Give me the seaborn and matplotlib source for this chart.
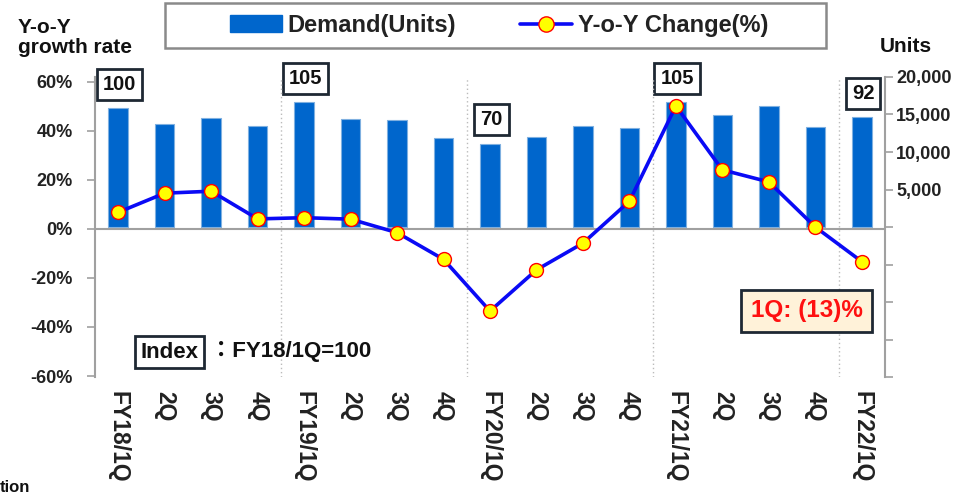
import numpy as np
import pandas as pd
import matplotlib
matplotlib.use("Agg")
import matplotlib.pyplot as plt
from matplotlib.patches import Patch, Rectangle
from matplotlib.lines import Line2D
from matplotlib.ticker import FixedLocator, FuncFormatter
import seaborn as sns

# ---------------- data ----------------
quarters = ["FY18/1Q", "2Q", "3Q", "4Q",
            "FY19/1Q", "2Q ", "3Q ", "4Q ",
            "FY20/1Q", "2Q  ", "3Q  ", "4Q  ",
            "FY21/1Q", "2Q   ", "3Q   ", "4Q   ",
            "FY22/1Q"]
tick_labels = ["FY18/1Q", "2Q", "3Q", "4Q",
               "FY19/1Q", "2Q", "3Q", "4Q",
               "FY20/1Q", "2Q", "3Q", "4Q",
               "FY21/1Q", "2Q", "3Q", "4Q",
               "FY22/1Q"]
demand_units = [15900, 13780, 14480, 13510,
                16690, 14440, 14300, 11900,
                11130, 12050, 13510, 13250,
                16700, 14970, 16160, 13380,
                14630]
yoy_change = [6.8, 14.6, 15.4, 4.1,
              4.6, 4.0, -1.5, -12.4,
              -33.5, -16.7, -5.8, 11.3,
              50.2, 24.1, 19.2, 0.8,
              -13.3]
index_quarters = ["FY18/1Q", "FY19/1Q", "FY20/1Q", "FY21/1Q", "FY22/1Q"]
index_values = [100, 105, 70, 105, 92]
left_ticks = [-60, -40, -20, 0, 20, 40, 60]
right_ticks = [-20000, -15000, -10000, -5000, 0, 5000, 10000, 15000, 20000]
year_boundaries = [3.5, 7.5, 11.5, 15.5]

df = pd.DataFrame({"quarter": quarters, "units": demand_units, "yoy": yoy_change})

# ---------------- style ----------------
sns.set_theme(style="white")
plt.rcParams["font.family"] = ["Liberation Sans", "DejaVu Sans"]
plt.rcParams["font.weight"] = "bold"

TXT = "#222222"
BAR = "#0066CC"
BAR_EDGE = "#7FB0E0"
LINE = "#0A0AF5"
SPINE = "#A0A0A0"

fig = plt.figure(figsize=(9.61, 4.93), dpi=100)
W, H = 961, 493
ax = fig.add_axes([95 / W, 1 - 377 / H, 790 / W, 300 / H])
ax2 = ax.twinx()

# bars (units, right axis)
sns.barplot(data=df, x="quarter", y="units", ax=ax2, color=BAR, saturation=1,
            width=0.42, edgecolor=BAR_EDGE, linewidth=0.8)

# line (yoy %, left axis)
xpos = np.arange(len(quarters))
sns.lineplot(x=xpos, y=df["yoy"].values, ax=ax, color=LINE, linewidth=2.6,
             marker="o", markersize=10, markerfacecolor="#FFFF00",
             markeredgecolor="#FF0000", markeredgewidth=1.0)

ax.set_zorder(ax2.get_zorder() + 1)
ax.patch.set_visible(False)

# axes limits
ax.set_xlim(-0.5, len(quarters) - 0.5)
ax.set_ylim(-60.4, 62)
ax2.set_ylim(-20000, 20000)

# x ticks
ax.set_xticks(xpos)
ax.set_xticklabels(tick_labels, rotation=270, fontsize=16.5, fontweight="bold",
                   color=TXT, va="top", ha="center")
ax.tick_params(axis="x", length=0, pad=10)
ax.xaxis.set_minor_locator(FixedLocator(year_boundaries))
ax.tick_params(axis="x", which="minor", length=0)
ax.grid(which="minor", axis="x", linestyle=(0, (1, 2)), color="#BBBBBB", linewidth=1)
ax.set_xlabel("")

# left y ticks
ax.yaxis.set_major_locator(FixedLocator(left_ticks))
ax.yaxis.set_major_formatter(FuncFormatter(lambda v, p: f"{int(v)}%"))
ax.tick_params(axis="y", labelsize=13, labelcolor=TXT, length=6, width=1.2,
               color=SPINE, direction="out", pad=10, left=True)
for lab in ax.get_yticklabels():
    lab.set_fontweight("bold")
ax.set_ylabel("")

# right y ticks
ax2.yaxis.set_major_locator(FixedLocator(right_ticks))
ax2.yaxis.set_major_formatter(FuncFormatter(lambda v, p: f"{int(v):,}" if v > 0 else ""))
ax2.tick_params(axis="y", labelsize=13, labelcolor=TXT, length=6, width=1.2,
                color=SPINE, direction="out", pad=2, right=True)
for lab in ax2.get_yticklabels():
    lab.set_fontweight("bold")
ax2.set_ylabel("")

for a in (ax, ax2):
    for s in ("top", "bottom"):
        a.spines[s].set_visible(False)
    a.grid(False, axis="y")
ax.spines["right"].set_visible(False)
ax2.spines["left"].set_visible(False)
ax.spines["left"].set_color(SPINE)
ax.spines["left"].set_linewidth(1.5)
ax2.spines["right"].set_color(SPINE)
ax2.spines["right"].set_linewidth(1.5)

ax.axhline(0, color=SPINE, linewidth=1.5, zorder=0.5)

# index boxes above bars
for q, v in zip(index_quarters, index_values):
    i = quarters.index(q)
    ax2.annotate(str(v), xy=(i, demand_units[i]), xytext=(1, 17),
                 textcoords="offset points", ha="center", va="center",
                 fontsize=14.5, fontweight="bold", color="#111111",
                 bbox=dict(boxstyle="square,pad=0.3", facecolor="white",
                           edgecolor="#1E2833", linewidth=2))

# axis titles
fig.text(18 / W, 1 - 18 / H, "Y-o-Y\ngrowth rate", ha="left", va="top",
         fontsize=15, fontweight="bold", color="#111111", linespacing=1.05)
fig.text(906 / W, 1 - 47 / H, "Units", ha="center", va="center",
         fontsize=15, fontweight="bold", color="#111111")

# Index note
fig.text(169.5 / W, 1 - 352 / H, "Index", ha="center", va="center",
         fontsize=16, fontweight="bold", color="#111111",
         bbox=dict(boxstyle="square,pad=0.25", facecolor="white",
                   edgecolor="#1E2833", linewidth=2))
fig.text(210 / W, 1 - 352 / H, "：FY18/1Q=100", ha="left", va="center",
         fontsize=16, fontweight="bold", color="#111111",
         family=["Liberation Sans", "Noto Sans CJK JP", "DejaVu Sans"])

# latest quarter callout
fig.text(806.5 / W, 1 - 311 / H, "1Q: (13)%", ha="center", va="center",
         fontsize=17.5, fontweight="bold", color="#FF1010",
         bbox=dict(boxstyle="square,pad=0.4", facecolor="#FFF2D9",
                   edgecolor="#1E2833", linewidth=2))

# clipped footer fragment
fig.text(0 / W, 1 - 487 / H, "tion", ha="left", va="center",
         fontsize=12, fontweight="bold", color="#111111")

# legend (frame drawn separately to match the wide box)
fig.patches.append(Rectangle((165 / W, 1 - 48 / H), 661 / W, 45 / H,
                             transform=fig.transFigure, fill=False,
                             edgecolor="#8A8A8A", linewidth=1.8))
handles = [Patch(facecolor=BAR, edgecolor=BAR),
           Line2D([], [], color=LINE, linewidth=2.6, marker="o", markersize=11,
                  markerfacecolor="#FFFF00", markeredgecolor="#FF0000")]
leg = fig.legend(handles, ["Demand(Units)", "Y-o-Y Change(%)"],
                 loc="center", bbox_to_anchor=(499 / W, 1 - 25.5 / H),
                 ncol=2, frameon=False,
                 prop=dict(weight="bold", size=17), handlelength=2.2,
                 handletextpad=0.25, columnspacing=2.7, borderpad=0.2,
                 borderaxespad=0)
for t in leg.get_texts():
    t.set_color(TXT)

fig.savefig("out.png", dpi=100)
